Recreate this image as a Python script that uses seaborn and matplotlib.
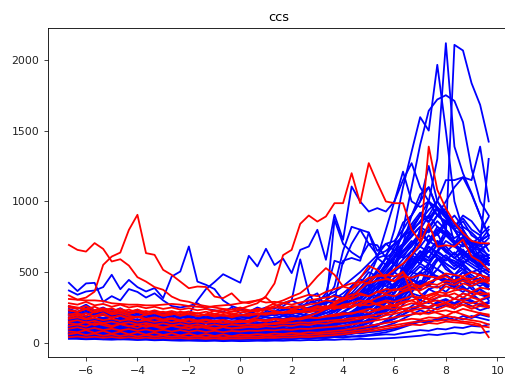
import numpy as np
import pandas as pd
import matplotlib
matplotlib.use("Agg")
import matplotlib.pyplot as plt
import seaborn as sns

# sample positions: -20/3 ... 29/3 in steps of 1/3
x = np.arange(-20, 30) / 3

# ---- blue series ----
b01 = [30, 28, 25, 27, 24, 22, 25, 23, 20, 22, 18, 20, 17, 15, 16, 14, 13, 15, 12, 14,
       12, 13, 15, 14, 16, 15, 18, 17, 20, 19, 22, 21, 25, 24, 28, 27, 30, 32, 35, 40,
       45, 50, 60, 55, 65, 70, 60, 75, 70, 80]
b02 = [45, 50, 42, 48, 40, 38, 44, 41, 36, 39, 34, 37, 30, 33, 28, 31, 27, 25, 29, 24,
       26, 28, 25, 30, 27, 33, 30, 35, 32, 38, 36, 42, 40, 45, 43, 50, 55, 60, 58, 70,
       80, 90, 85, 100, 95, 110, 105, 120, 115, 130]
b03 = [70, 65, 75, 60, 68, 72, 58, 63, 55, 60, 52, 57, 48, 54, 45, 50, 47, 42, 49, 44,
       40, 46, 43, 48, 45, 52, 49, 55, 51, 58, 60, 56, 64, 70, 66, 75, 80, 90, 100, 120,
       140, 160, 150, 170, 180, 160, 190, 175, 200, 185]
b04 = [95, 110, 88, 102, 120, 97, 90, 105, 85, 98, 80, 92, 76, 88, 82, 70, 79, 74, 68, 77,
       72, 66, 75, 70, 80, 74, 85, 78, 90, 84, 95, 88, 100, 110, 105, 120, 130, 150, 170, 200,
       230, 260, 240, 280, 300, 270, 310, 290, 260, 280]
b05 = [130, 120, 140, 115, 125, 110, 135, 105, 118, 100, 112, 95, 108, 90, 102, 88, 96, 85, 92, 82,
       90, 86, 95, 88, 100, 94, 105, 98, 110, 104, 115, 120, 112, 130, 140, 150, 170, 200, 240, 300,
       350, 330, 380, 400, 360, 420, 390, 350, 380, 340]
b06 = [160, 150, 170, 145, 155, 140, 160, 130, 150, 125, 140, 120, 135, 115, 128, 110, 120, 105, 115, 100,
       110, 104, 116, 108, 120, 112, 125, 118, 130, 135, 140, 150, 160, 175, 190, 210, 250, 300, 360, 420,
       460, 500, 450, 520, 480, 440, 500, 460, 420, 470]
b07 = [55, 60, 52, 58, 65, 50, 56, 62, 48, 54, 60, 46, 52, 58, 44, 50, 55, 42, 48, 53,
       45, 50, 47, 53, 49, 56, 52, 60, 57, 65, 62, 70, 68, 76, 82, 90, 105, 120, 140, 170,
       200, 230, 210, 250, 270, 240, 290, 260, 230, 250]
b08 = [200, 185, 210, 190, 175, 195, 180, 165, 185, 170, 160, 175, 155, 168, 150, 162, 145, 158, 140, 152,
       138, 148, 135, 150, 142, 155, 148, 162, 155, 170, 165, 180, 190, 210, 230, 260, 300, 350, 420, 500,
       560, 620, 580, 650, 600, 540, 600, 560, 520, 580]
b09 = [240, 220, 250, 225, 210, 235, 215, 200, 225, 205, 190, 210, 185, 200, 175, 195, 170, 188, 165, 180,
       160, 175, 168, 182, 175, 190, 185, 200, 195, 215, 210, 230, 250, 280, 320, 370, 420, 480, 560, 640,
       700, 760, 720, 800, 760, 700, 740, 680, 650, 700]
b10 = [110, 95, 120, 100, 90, 115, 98, 85, 105, 92, 80, 100, 88, 76, 95, 82, 72, 90, 78, 70,
       84, 75, 88, 80, 92, 85, 98, 90, 105, 98, 112, 105, 120, 130, 145, 160, 185, 220, 260, 320,
       380, 420, 400, 460, 430, 480, 440, 400, 430, 410]
b11 = [85, 80, 90, 78, 88, 75, 84, 72, 80, 70, 76, 68, 74, 66, 72, 64, 70, 62, 68, 60,
       66, 62, 70, 65, 74, 68, 78, 72, 82, 76, 86, 80, 92, 98, 105, 115, 130, 150, 180, 220,
       260, 300, 280, 320, 340, 310, 350, 330, 300, 320]
b12 = [35, 40, 33, 38, 31, 36, 29, 34, 27, 32, 26, 30, 24, 28, 22, 27, 21, 25, 20, 24,
       22, 26, 23, 28, 25, 30, 27, 33, 30, 36, 34, 40, 38, 45, 50, 56, 65, 75, 90, 110,
       130, 150, 140, 170, 160, 180, 165, 190, 175, 160]
b13 = [180, 165, 190, 160, 175, 150, 170, 145, 165, 140, 155, 135, 150, 130, 145, 125, 140, 122, 135, 120,
       130, 125, 138, 130, 145, 138, 152, 145, 160, 155, 170, 165, 185, 200, 220, 250, 290, 340, 400, 470,
       540, 600, 560, 640, 600, 560, 620, 580, 540, 600]
b14 = [65, 72, 60, 68, 75, 62, 70, 58, 66, 55, 63, 52, 60, 50, 57, 48, 55, 46, 53, 45,
       50, 47, 55, 51, 58, 54, 62, 58, 66, 62, 70, 68, 78, 85, 95, 110, 125, 145, 170, 200,
       240, 270, 250, 290, 310, 280, 320, 300, 270, 290]
b15 = [260, 240, 270, 230, 250, 220, 245, 210, 235, 200, 225, 195, 215, 190, 205, 185, 200, 180, 195, 175,
       190, 182, 198, 190, 205, 198, 215, 208, 225, 220, 240, 250, 270, 300, 340, 390, 450, 520, 600, 690,
       760, 820, 780, 860, 800, 740, 780, 720, 680, 740]
b16 = [150, 140, 130, 145, 135, 125, 140, 128, 118, 132, 122, 112, 126, 116, 108, 120, 110, 102, 114, 106,
       100, 110, 104, 115, 108, 120, 112, 125, 118, 130, 125, 140, 135, 150, 165, 185, 210, 250, 290, 340,
       390, 440, 410, 470, 450, 420, 460, 430, 400, 440]
m01 = [120, 110, 130, 105, 125, 100, 115, 95, 110, 90, 105, 88, 100, 85, 95, 82, 92, 80, 90, 78,
       88, 85, 95, 90, 100, 95, 110, 105, 120, 130, 150, 200, 250, 350, 300, 450, 500, 600, 550, 700,
       800, 900, 850, 950, 800, 700, 750, 600, 650, 550]
m02 = [90, 100, 85, 95, 80, 92, 78, 88, 75, 85, 72, 82, 70, 80, 68, 78, 66, 76, 64, 74,
       70, 76, 72, 80, 76, 85, 80, 90, 88, 100, 110, 130, 160, 200, 260, 320, 400, 480, 560, 650,
       720, 680, 760, 700, 640, 600, 560, 620, 540, 500]
m03 = [140, 130, 150, 125, 140, 120, 135, 115, 130, 110, 125, 108, 120, 105, 118, 100, 112, 98, 108, 95,
       105, 100, 112, 108, 120, 115, 130, 125, 140, 150, 170, 190, 220, 260, 310, 380, 460, 540, 620, 700,
       780, 860, 940, 1000, 920, 840, 760, 700, 660, 620]
m04 = [75, 85, 70, 80, 68, 78, 65, 75, 62, 72, 60, 70, 58, 68, 56, 66, 55, 64, 53, 62,
       58, 64, 60, 68, 64, 72, 70, 80, 78, 90, 100, 120, 150, 190, 240, 300, 370, 450, 380, 520,
       600, 560, 650, 720, 680, 620, 700, 640, 580, 600]
m05 = [200, 190, 210, 185, 200, 180, 195, 175, 190, 170, 185, 165, 180, 160, 175, 158, 170, 155, 165, 150,
       160, 155, 168, 162, 175, 170, 185, 180, 195, 210, 230, 260, 300, 350, 420, 500, 470, 560, 640, 600,
       700, 780, 720, 820, 760, 700, 740, 680, 720, 760]
m06 = [60, 55, 65, 52, 62, 50, 58, 48, 56, 46, 54, 45, 52, 44, 50, 42, 48, 40, 46, 39,
       44, 41, 48, 45, 52, 49, 56, 53, 60, 58, 65, 70, 80, 95, 115, 140, 180, 230, 290, 360,
       430, 500, 560, 520, 600, 580, 540, 500, 520, 480]
m07 = [170, 160, 180, 155, 170, 150, 165, 145, 160, 140, 155, 138, 150, 135, 145, 130, 140, 128, 138, 125,
       132, 128, 140, 135, 148, 142, 155, 150, 165, 175, 190, 220, 260, 300, 360, 420, 380, 480, 550, 520,
       620, 680, 640, 720, 660, 600, 640, 580, 620, 560]
m08 = [100, 95, 105, 92, 100, 88, 96, 85, 93, 82, 90, 80, 88, 78, 85, 76, 83, 74, 80, 72,
       78, 75, 82, 78, 86, 82, 90, 88, 96, 105, 115, 130, 150, 180, 220, 270, 330, 300, 400, 480,
       560, 650, 600, 700, 760, 720, 680, 720, 660, 700]
m09 = [50, 48, 55, 46, 52, 44, 50, 42, 48, 40, 46, 38, 44, 37, 42, 36, 40, 35, 38, 34,
       37, 35, 40, 38, 43, 41, 46, 44, 50, 55, 60, 70, 85, 100, 130, 170, 220, 280, 350, 430,
       520, 600, 680, 640, 720, 680, 640, 600, 640, 600]
m10 = [130, 125, 135, 120, 130, 115, 128, 112, 124, 108, 120, 105, 116, 102, 112, 100, 108, 98, 105, 95,
       102, 98, 108, 104, 114, 110, 120, 116, 128, 140, 160, 185, 215, 250, 290, 340, 400, 460, 520, 590,
       650, 720, 800, 760, 840, 900, 820, 780, 720, 760]
q01 = [90, 85, 100, 80, 95, 75, 90, 70, 88, 72, 85, 68, 80, 65, 78, 62, 75, 60, 72, 58,
       70, 65, 75, 68, 80, 72, 85, 78, 90, 85, 100, 95, 120, 110, 150, 200, 180, 300, 250, 400,
       350, 500, 450, 600, 520, 480, 550, 420, 500, 380]
q02 = [160, 170, 150, 175, 145, 165, 140, 160, 135, 155, 130, 150, 128, 145, 125, 140, 122, 138, 120, 135,
       125, 132, 128, 140, 135, 148, 142, 155, 150, 165, 180, 170, 220, 200, 280, 350, 300, 450, 380, 550,
       650, 600, 720, 680, 800, 700, 620, 680, 560, 600]
q03 = [40, 38, 42, 36, 40, 34, 38, 33, 36, 32, 35, 30, 34, 29, 33, 28, 32, 27, 31, 26,
       30, 28, 32, 30, 35, 33, 38, 36, 42, 40, 48, 52, 60, 70, 85, 120, 180, 250, 220, 350,
       420, 380, 500, 460, 420, 480, 400, 350, 380, 300]
q04 = [210, 200, 220, 195, 215, 190, 205, 185, 200, 180, 195, 178, 190, 175, 185, 172, 180, 170, 178, 168,
       175, 180, 185, 190, 200, 210, 220, 235, 250, 270, 300, 340, 320, 400, 450, 420, 520, 600, 560, 680,
       750, 820, 700, 780, 640, 700, 600, 650, 560, 520]
q05 = [70, 78, 65, 74, 62, 70, 60, 68, 58, 66, 56, 64, 55, 62, 54, 60, 52, 58, 50, 56,
       54, 58, 56, 62, 60, 66, 64, 72, 70, 80, 85, 95, 110, 130, 160, 200, 260, 240, 330, 300,
       420, 380, 460, 520, 480, 440, 500, 420, 460, 400]
q06 = [120, 110, 125, 105, 118, 100, 112, 96, 108, 92, 104, 90, 100, 88, 96, 85, 92, 82, 90, 80,
       86, 90, 88, 95, 92, 100, 98, 108, 105, 118, 125, 140, 160, 190, 230, 280, 340, 420, 500, 450,
       600, 560, 680, 620, 580, 640, 560, 600, 520, 480]
q07 = [100, 108, 95, 104, 90, 100, 86, 96, 84, 92, 82, 90, 80, 88, 78, 86, 76, 84, 74, 82,
       78, 82, 80, 88, 85, 92, 90, 100, 96, 110, 120, 135, 150, 180, 220, 260, 320, 380, 350, 450,
       500, 560, 520, 600, 540, 480, 520, 460, 420, 450]
q08 = [180, 170, 185, 165, 178, 160, 172, 155, 168, 150, 162, 148, 158, 145, 155, 142, 150, 140, 148, 138,
       145, 150, 155, 165, 175, 190, 205, 220, 240, 260, 280, 310, 350, 400, 460, 520, 600, 550, 680, 760,
       820, 900, 860, 950, 880, 800, 860, 760, 720, 800]
q09 = [30, 34, 28, 32, 26, 30, 25, 29, 24, 28, 23, 27, 22, 26, 21, 25, 20, 24, 19, 23,
       21, 24, 23, 27, 25, 29, 28, 32, 31, 36, 40, 45, 52, 62, 75, 95, 120, 160, 210, 270,
       330, 300, 380, 350, 420, 390, 360, 400, 340, 320]
q10 = [140, 150, 135, 145, 130, 140, 125, 135, 120, 130, 118, 128, 115, 125, 112, 122, 110, 120, 108, 118,
       115, 120, 118, 126, 124, 132, 130, 140, 138, 150, 160, 175, 195, 220, 260, 310, 370, 440, 400, 520,
       580, 640, 600, 700, 650, 600, 660, 580, 540, 560]
q11 = [80, 75, 85, 72, 82, 70, 78, 68, 76, 66, 74, 64, 72, 62, 70, 60, 68, 58, 66, 57,
       62, 66, 64, 70, 68, 75, 72, 80, 78, 88, 95, 105, 120, 140, 170, 210, 260, 320, 300, 380,
       450, 420, 500, 470, 440, 400, 450, 380, 350, 330]
q12 = [220, 210, 230, 205, 220, 200, 215, 195, 210, 190, 205, 188, 200, 185, 195, 182, 190, 180, 188, 178,
       185, 190, 195, 205, 215, 230, 245, 260, 280, 300, 330, 360, 400, 450, 500, 560, 620, 700, 650, 760,
       840, 920, 880, 960, 900, 820, 880, 800, 760, 820]
q13 = [55, 60, 52, 58, 50, 56, 48, 54, 46, 52, 45, 50, 44, 48, 43, 47, 42, 46, 41, 45,
       43, 46, 45, 50, 48, 54, 52, 58, 56, 64, 70, 78, 88, 100, 120, 150, 190, 240, 300, 280,
       360, 420, 400, 460, 430, 400, 380, 350, 300, 250]
q14 = [110, 100, 115, 95, 108, 90, 104, 88, 100, 85, 96, 82, 92, 80, 90, 78, 88, 76, 86, 75,
       82, 86, 84, 90, 88, 95, 92, 100, 98, 108, 115, 125, 140, 165, 195, 235, 285, 345, 415, 390,
       480, 540, 500, 580, 620, 560, 520, 480, 440, 380]
e_line = [424, 366, 420, 424, 290, 330, 300, 380, 360, 320, 350, 300, 260, 250, 260, 280, 240, 230, 220, 250,
          210, 230, 200, 220, 190, 210, 200, 230, 220, 240, 250, 260, 280, 300, 320, 350, 330, 380, 420, 460,
          500, 480, 520, 450, 480, 420, 460, 400, 430, 380]
f_line = [370, 340, 363, 370, 394, 481, 379, 445, 394, 363, 387, 316, 469, 504, 681, 433, 410, 380, 300, 260,
          240, 220, 250, 230, 210, 240, 225, 260, 240, 270, 280, 300, 290, 320, 340, 360, 400, 450, 500, 560,
          620, 580, 650, 600, 560, 520, 580, 540, 500, 520]
gh_line = [150, 160, 140, 170, 155, 145, 165, 150, 140, 160, 150, 170, 160, 180, 200, 300, 380, 430, 485, 455,
           425, 615, 540, 665, 550, 595, 493, 657, 681, 799, 587, 905, 728, 1105, 999, 928, 952, 928, 1000, 1210,
           1000, 960, 1000, 900, 850, 800, 700, 650, 600, 550]
i_line = [80, 90, 75, 85, 70, 80, 68, 78, 65, 75, 62, 72, 60, 70, 58, 68, 60, 65, 70, 75,
          80, 90, 100, 120, 150, 200, 250, 230, 300, 280, 350, 580, 560, 700, 800, 780, 650, 700, 720, 800,
          900, 1000, 1100, 950, 900, 800, 700, 650, 700, 600]
k_line = [200, 190, 180, 195, 170, 185, 160, 175, 150, 165, 145, 160, 140, 155, 150, 170, 160, 180, 175, 200,
          190, 210, 230, 250, 240, 280, 300, 270, 320, 350, 250, 870, 700, 640, 600, 700, 620, 650, 700, 750,
          800, 850, 900, 820, 780, 700, 650, 600, 620, 580]
l_line = [120, 130, 110, 125, 105, 120, 100, 115, 95, 110, 90, 105, 88, 100, 85, 98, 82, 95, 90, 110,
          130, 150, 180, 200, 220, 260, 300, 590, 350, 250, 300, 270, 320, 350, 300, 380, 420, 400, 460, 500,
          550, 600, 580, 620, 560, 520, 560, 500, 480, 460]
n1_line = [60, 70, 55, 65, 50, 60, 48, 58, 45, 55, 44, 52, 42, 50, 40, 48, 45, 55, 50, 60,
           70, 80, 90, 110, 130, 160, 200, 180, 220, 250, 300, 400, 650, 820, 800, 700, 690, 600, 650, 700,
           800, 900, 1000, 950, 800, 700, 650, 600, 550, 600]
n2_line = [90, 80, 95, 75, 88, 70, 84, 66, 80, 62, 76, 60, 72, 58, 70, 56, 68, 55, 66, 54,
           64, 70, 80, 90, 100, 120, 140, 130, 160, 200, 240, 300, 580, 600, 580, 780, 600, 620, 700, 850,
           900, 1050, 1100, 950, 900, 850, 800, 700, 750, 650]
t1_line = [50, 55, 48, 52, 45, 50, 42, 48, 40, 46, 38, 44, 36, 42, 35, 40, 34, 38, 33, 37,
           35, 40, 45, 50, 55, 60, 70, 80, 90, 110, 130, 150, 180, 210, 250, 280, 300, 350, 300, 400,
           600, 800, 1000, 1300, 2118, 1387, 1198, 1057, 900, 760]
t2_line = [70, 65, 75, 60, 70, 58, 66, 55, 62, 52, 60, 50, 58, 48, 55, 46, 52, 44, 50, 42,
           48, 52, 56, 60, 66, 72, 80, 90, 100, 120, 140, 160, 190, 220, 260, 200, 230, 300, 250, 350,
           450, 400, 550, 650, 764, 2106, 2066, 1835, 1682, 1422]
t3_line = [110, 100, 115, 95, 108, 90, 104, 86, 100, 82, 96, 80, 92, 78, 88, 76, 85, 74, 82, 72,
           80, 85, 90, 100, 110, 120, 135, 150, 170, 200, 230, 270, 320, 380, 450, 400, 500, 600, 800, 1100,
           1350, 1595, 1500, 1965, 1500, 1000, 800, 700, 600, 500]
t4_line = [40, 45, 38, 42, 36, 40, 34, 38, 32, 36, 30, 34, 29, 33, 28, 32, 27, 31, 26, 30,
           28, 32, 35, 38, 42, 46, 50, 56, 62, 70, 80, 95, 110, 130, 160, 200, 260, 350, 600, 800,
           1100, 1400, 1640, 1720, 1750, 1710, 1560, 1230, 1000, 900]
t5_line = [150, 140, 160, 135, 150, 130, 145, 125, 140, 120, 135, 118, 130, 115, 125, 112, 120, 110, 118, 108,
           115, 120, 125, 130, 140, 150, 160, 175, 190, 210, 230, 260, 290, 330, 380, 430, 480, 540, 600, 650,
           700, 750, 800, 900, 1000, 1100, 1170, 1150, 1387, 1000]
t6_line = [130, 120, 140, 115, 130, 110, 125, 105, 120, 100, 115, 98, 110, 95, 105, 92, 100, 90, 98, 88,
           95, 100, 105, 110, 120, 130, 140, 155, 170, 190, 210, 240, 270, 300, 340, 390, 440, 500, 560, 620,
           680, 760, 820, 900, 860, 800, 760, 720, 700, 1300]
t7_line = [90, 100, 85, 95, 80, 92, 78, 88, 75, 85, 72, 82, 70, 80, 68, 78, 66, 76, 64, 74,
           72, 78, 76, 84, 80, 90, 86, 96, 92, 104, 110, 125, 140, 170, 200, 240, 290, 350, 420, 500,
           600, 800, 900, 1000, 1150, 1150, 1170, 1050, 900, 750]
t8_line = [170, 160, 175, 150, 165, 145, 160, 140, 155, 135, 150, 132, 145, 130, 140, 128, 138, 125, 135, 122,
           130, 128, 140, 135, 150, 145, 160, 158, 175, 190, 210, 240, 280, 330, 390, 460, 600, 800, 1000, 1150,
           1270, 1100, 1000, 900, 950, 700, 800, 650, 600, 620]
t9_line = [110, 120, 105, 115, 100, 110, 95, 105, 90, 100, 88, 96, 85, 94, 82, 92, 80, 90, 78, 88,
           85, 90, 95, 100, 108, 115, 125, 135, 150, 170, 190, 220, 260, 300, 350, 420, 480, 450, 500, 700,
           900, 1000, 1250, 1000, 900, 800, 700, 650, 600, 550]
t10_line = [60, 65, 58, 62, 55, 60, 52, 58, 50, 56, 48, 54, 46, 52, 45, 50, 44, 48, 42, 47,
            45, 48, 52, 56, 60, 66, 72, 80, 90, 100, 115, 130, 150, 175, 205, 240, 280, 330, 390, 460,
            540, 620, 700, 780, 860, 820, 900, 860, 780, 890]

# ---- red series ----
a_red = [692, 657, 645, 705, 664, 575, 591, 546, 464, 433, 394, 375, 327, 300, 290, 270, 260, 250, 240, 235,
         250, 230, 220, 240, 225, 210, 230, 250, 240, 260, 250, 240, 270, 280, 260, 290, 270, 250, 260, 240,
         220, 200, 230, 210, 190, 220, 200, 180, 210, 190]
b_red = [310, 305, 320, 362, 551, 610, 638, 798, 905, 634, 622, 516, 480, 433, 386, 398, 395, 327, 316, 350,
         290, 280, 300, 320, 270, 250, 240, 260, 230, 250, 260, 240, 270, 250, 280, 300, 270, 290, 260, 280,
         300, 270, 290, 260, 280, 250, 270, 240, 260, 250]
c_red = [200, 210, 190, 220, 230, 200, 210, 190, 180, 200, 210, 190, 200, 220, 210, 190, 200, 230, 210, 220,
         240, 260, 280, 330, 420, 620, 657, 841, 900, 857, 893, 987, 987, 1199, 987, 1270, 1129, 999, 987, 987,
         800, 716, 1387, 1081, 950, 850, 775, 720, 705, 703]
d_red = [230, 220, 240, 215, 230, 210, 225, 205, 220, 200, 215, 198, 210, 195, 205, 192, 200, 190, 198, 188,
         195, 200, 210, 205, 220, 215, 230, 225, 240, 235, 250, 280, 300, 320, 380, 430, 480, 470, 520, 560,
         620, 700, 845, 680, 690, 680, 730, 610, 575, 515]
e_red = [170, 180, 165, 175, 160, 170, 155, 165, 150, 160, 148, 158, 145, 155, 142, 152, 140, 150, 138, 148,
         145, 160, 180, 250, 280, 300, 327, 351, 400, 469, 528, 481, 398, 380, 420, 460, 470, 480, 470, 500,
         430, 350, 300, 320, 340, 310, 350, 330, 360, 340]
f_red = [140, 130, 145, 125, 138, 120, 132, 116, 128, 112, 124, 110, 120, 108, 116, 106, 114, 104, 112, 102,
         110, 115, 120, 130, 140, 150, 160, 175, 190, 210, 240, 270, 300, 380, 457, 544, 516, 457, 433, 504,
         350, 280, 330, 350, 400, 380, 420, 400, 430, 440]
r01 = [335, 305, 300, 300, 295, 280, 275, 270, 270, 265, 265, 270, 275, 270, 260, 255, 250, 260, 265, 270,
       280, 290, 300, 285, 290, 280, 270, 285, 300, 310, 320, 330, 310, 340, 350, 330, 360, 380, 370, 390,
       420, 400, 430, 450, 470, 440, 460, 430, 450, 440]
r02 = [260, 250, 240, 255, 230, 245, 220, 235, 215, 225, 210, 220, 205, 215, 200, 210, 195, 205, 190, 200,
       195, 205, 200, 210, 205, 215, 210, 220, 215, 230, 240, 250, 245, 260, 270, 265, 280, 300, 290, 310,
       330, 320, 340, 360, 350, 370, 380, 360, 390, 380]
r03 = [200, 190, 210, 185, 195, 180, 190, 175, 185, 170, 180, 165, 175, 160, 170, 158, 165, 155, 162, 150,
       158, 155, 165, 160, 170, 165, 175, 170, 180, 175, 185, 190, 200, 210, 220, 215, 230, 245, 240, 260,
       280, 270, 290, 300, 285, 310, 300, 320, 305, 330]
r04 = [150, 160, 145, 155, 140, 150, 135, 145, 130, 140, 128, 138, 125, 135, 122, 132, 120, 130, 118, 128,
       125, 130, 128, 135, 132, 140, 138, 145, 142, 150, 155, 160, 165, 175, 180, 190, 200, 210, 220, 240,
       250, 260, 255, 270, 280, 265, 290, 280, 300, 260]
r05 = [100, 110, 95, 105, 90, 100, 88, 98, 85, 95, 82, 92, 80, 90, 78, 88, 76, 86, 75, 84,
       80, 86, 84, 90, 88, 95, 92, 100, 98, 105, 110, 115, 120, 130, 140, 150, 160, 170, 180, 190,
       200, 210, 205, 220, 230, 215, 240, 225, 210, 200]
r06 = [60, 70, 55, 65, 50, 60, 48, 58, 45, 55, 44, 52, 42, 50, 40, 48, 39, 46, 38, 45,
       42, 46, 44, 50, 48, 54, 52, 58, 56, 62, 66, 70, 75, 82, 90, 98, 105, 115, 125, 135,
       145, 150, 160, 155, 165, 160, 150, 145, 130, 40]
r07 = [180, 200, 170, 190, 210, 175, 195, 165, 185, 160, 175, 155, 170, 150, 165, 148, 160, 145, 158, 140,
       150, 145, 160, 150, 165, 158, 172, 165, 180, 175, 190, 200, 210, 205, 225, 240, 235, 260, 270, 290,
       300, 320, 310, 340, 330, 350, 320, 360, 340, 350]
r08 = [120, 130, 115, 140, 125, 110, 135, 120, 105, 128, 115, 100, 122, 108, 98, 118, 104, 95, 112, 100,
       105, 112, 108, 118, 112, 124, 118, 130, 125, 138, 135, 148, 150, 160, 170, 180, 175, 195, 205, 220,
       230, 240, 250, 235, 260, 245, 270, 255, 280, 260]
r09 = [230, 220, 240, 215, 235, 210, 225, 205, 220, 200, 215, 195, 210, 190, 205, 188, 200, 185, 198, 180,
       195, 190, 205, 198, 215, 208, 225, 218, 235, 230, 245, 260, 255, 280, 300, 290, 320, 340, 330, 360,
       380, 370, 400, 390, 420, 410, 440, 420, 450, 420]
r10 = [80, 75, 90, 70, 85, 65, 80, 60, 75, 58, 72, 55, 68, 52, 65, 50, 62, 48, 60, 46,
       58, 55, 62, 58, 66, 62, 70, 66, 75, 72, 80, 85, 90, 100, 110, 120, 130, 140, 150, 160,
       170, 165, 180, 175, 190, 180, 170, 160, 150, 130]
r11 = [280, 270, 290, 265, 275, 255, 270, 250, 260, 245, 255, 240, 250, 235, 245, 230, 240, 225, 235, 220,
       230, 225, 240, 235, 250, 245, 260, 255, 270, 280, 300, 290, 320, 310, 340, 330, 360, 350, 380, 370,
       400, 390, 420, 410, 440, 430, 460, 450, 480, 450]
r12 = [40, 45, 38, 43, 36, 41, 34, 39, 32, 37, 31, 35, 30, 34, 29, 33, 28, 32, 27, 31,
       30, 33, 32, 36, 35, 39, 38, 42, 41, 46, 50, 55, 60, 68, 75, 82, 90, 100, 110, 120,
       130, 125, 140, 135, 150, 145, 140, 130, 120, 110]
r13 = [250, 240, 260, 230, 245, 225, 240, 220, 235, 215, 230, 212, 225, 210, 222, 208, 220, 205, 218, 203,
       215, 220, 230, 240, 260, 280, 300, 320, 340, 330, 360, 380, 400, 420, 430, 420, 440, 450, 440, 470,
       460, 480, 470, 460, 490, 480, 470, 500, 480, 460]

blue_lines = [b01, b02, b03, b04, b05, b06, b07, b08, b09, b10, b11, b12, b13, b14, b15, b16,
              m01, m02, m03, m04, m05, m06, m07, m08, m09, m10,
              q01, q02, q03, q04, q05, q06, q07, q08, q09, q10, q11, q12, q13, q14,
              e_line, f_line, gh_line, i_line, k_line, l_line, n1_line, n2_line,
              t1_line, t2_line, t3_line, t4_line, t5_line, t6_line, t7_line, t8_line, t9_line, t10_line]
red_lines = [r01, r02, r03, r04, r05, r06, r07, r08, r09, r10, r11, r12, r13,
             a_red, b_red, c_red, d_red, e_red, f_red]


def long_frame(series_list):
    parts = [pd.DataFrame({"x": x, "v": s, "run": k}) for k, s in enumerate(series_list)]
    return pd.concat(parts, ignore_index=True)


blue_df = long_frame(blue_lines)
red_df = long_frame(red_lines)

fig = plt.figure(figsize=(5.05, 3.78), dpi=100)
ax = fig.add_axes([48 / 505, 21 / 378, 461.6 / 505, 329 / 378])

sns.lineplot(data=blue_df, x="x", y="v", units="run", estimator=None,
             color="blue", linewidth=1.3, ax=ax, legend=False)
sns.lineplot(data=red_df, x="x", y="v", units="run", estimator=None,
             color="red", linewidth=1.3, ax=ax, legend=False)

ax.set_xlim(-7.48, 10.48)
ax.set_ylim(-100, 2225)
ax.set_xticks([-6, -4, -2, 0, 2, 4, 6, 8, 10])
ax.set_yticks([0, 500, 1000, 1500, 2000])
ax.set_xlabel("")
ax.set_ylabel("")
ax.set_title("ccs", fontsize=9.4, pad=5)
ax.tick_params(labelsize=7.8, length=2.7, width=0.6, colors="#222222")
for sp in ax.spines.values():
    sp.set_linewidth(0.6)

fig.savefig("out.png", dpi=100)
